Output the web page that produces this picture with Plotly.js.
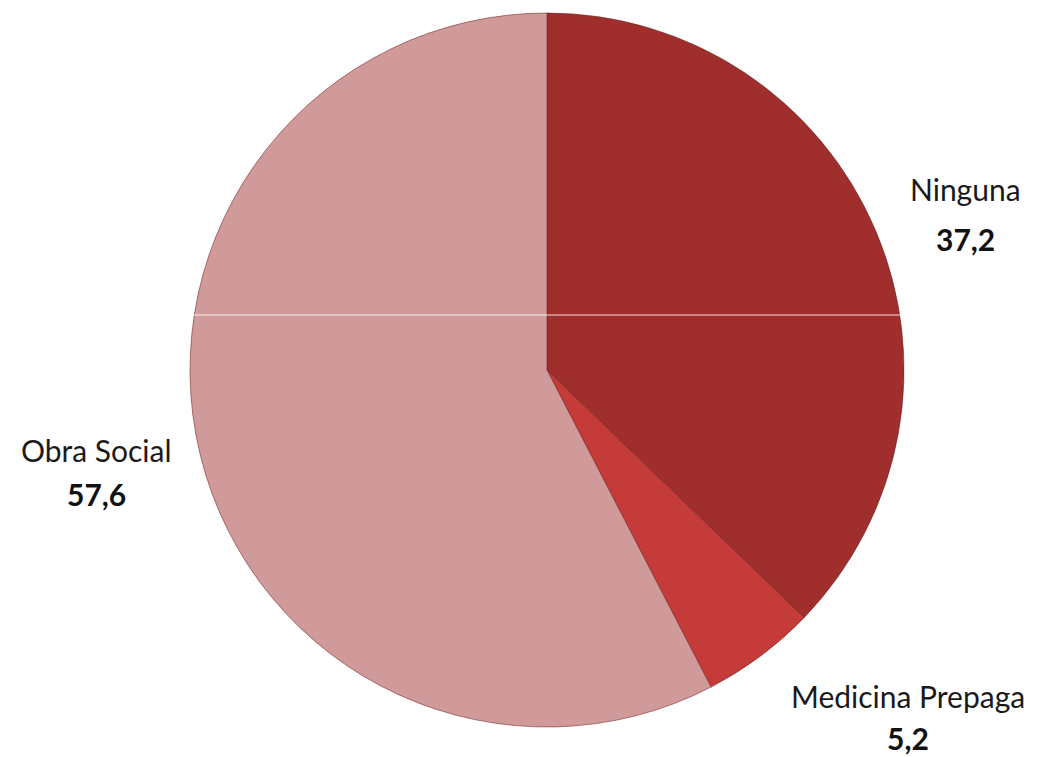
<!DOCTYPE html>
<html>
<head>
<meta charset="utf-8">
<script src="https://cdn.plot.ly/plotly-3.0.1.min.js"></script>
<style>html,body{margin:0;padding:0;background:#fff;}#chart{width:1043px;height:757px;}</style>
</head>
<body>
<div id="chart"></div>
<script>
const categories = ["Ninguna", "Medicina Prepaga", "Obra Social"];
const values = [37.2, 5.2, 57.6];
const valueLabels = ["37,2", "5,2", "57,6"];
const sliceColors = ["#a02e2d", "#c53b39", "#d19a9a"];
// label centre positions in pixels: [x, name y, value y]
const labelPos = [[965, 189, 239], [908, 696, 738], [96, 450, 494]];

const W = 1043, H = 757;
const cx = 547, cy = 370, r = 357;

const trace = {
  type: "pie",
  labels: categories,
  values: values,
  sort: false,
  direction: "clockwise",
  rotation: 0,
  textinfo: "none",
  hoverinfo: "label+value",
  marker: { colors: sliceColors, line: { color: "rgba(110,30,30,0.55)", width: 1 } },
  domain: { x: [(cx - r) / W, (cx + r) / W], y: [1 - (cy + r) / H, 1 - (cy - r) / H] },
  showlegend: false
};

const fontFam = "Lato, 'Open Sans', sans-serif";
const annotations = [];
categories.forEach((c, i) => {
  const p = labelPos[i];
  annotations.push({
    xref: "paper", yref: "paper", x: p[0] / W, y: 1 - p[1] / H,
    xanchor: "center", yanchor: "middle", showarrow: false,
    text: c, font: { family: fontFam, size: 30, color: "#1a1a1a" }
  });
  annotations.push({
    xref: "paper", yref: "paper", x: p[0] / W, y: 1 - p[2] / H,
    xanchor: "center", yanchor: "middle", showarrow: false,
    text: "<b>" + valueLabels[i] + "</b>", font: { family: fontFam, size: 30, color: "#111" }
  });
});

const layout = {
  width: W, height: H,
  margin: { l: 0, r: 0, t: 0, b: 0 },
  paper_bgcolor: "#ffffff",
  annotations: annotations,
  shapes: [{
    type: "line", xref: "paper", yref: "paper",
    x0: 190 / W, x1: 903 / W, y0: 1 - 315 / H, y1: 1 - 315 / H,
    line: { color: "rgba(255,255,255,0.85)", width: 1 }
  }]
};

Plotly.newPlot("chart", [trace], layout, { displayModeBar: false, staticPlot: true });
</script>
</body>
</html>
